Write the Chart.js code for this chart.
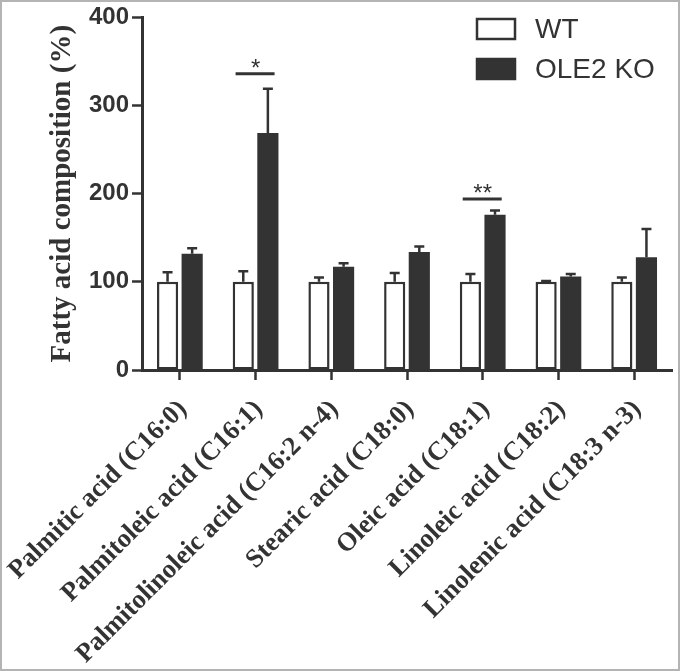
<!DOCTYPE html>
<html>
<head>
<meta charset="utf-8">
<script src="https://cdn.jsdelivr.net/npm/chart.js@4/dist/chart.umd.min.js"></script>
<style>
  html, body { margin: 0; padding: 0; background: #fff; }
  #chart-wrap { position: relative; width: 680px; height: 671px; }
</style>
</head>
<body>
<div id="chart-wrap"><canvas id="chart-container" width="680" height="671"></canvas></div>
<script>
const categories = [
  'Palmitic acid (C16:0)',
  'Palmitoleic acid (C16:1)',
  'Palmitolinoleic acid (C16:2 n-4)',
  'Stearic acid (C18:0)',
  'Oleic acid (C18:1)',
  'Linoleic acid (C18:2)',
  'Linolenic acid (C18:3 n-3)'
];
const wtValues = [100, 100, 100, 100, 100, 100, 100];
const wtErrors = [11, 12, 5, 10, 9, 1, 5];
const koValues = [132, 269, 117, 134, 176, 106, 128];
const koErrors = [6, 50, 4, 6, 5, 3, 32];
const yTicks = [0, 100, 200, 300, 400];
const sigIndex = [1, 4];
const sigMark = ['*', '**'];
const sigLevel = [336, 194];

const ink = '#333333';

document.addEventListener('DOMContentLoaded', function() {
  const chartContainer = document.querySelector('#chart-container');

  const errorBars = {
    id: 'errorBars',
    afterDatasetsDraw(chart) {
      const ctx = chart.ctx;
      const yScale = chart.scales.y;
      ctx.save();
      ctx.strokeStyle = ink;
      ctx.lineWidth = 2.5;
      chart.data.datasets.forEach(function(ds, i) {
        const meta = chart.getDatasetMeta(i);
        meta.data.forEach(function(bar, j) {
          const top = yScale.getPixelForValue(ds.data[j] + ds.errors[j]);
          ctx.beginPath();
          ctx.moveTo(bar.x, bar.y);
          ctx.lineTo(bar.x, top);
          ctx.moveTo(bar.x - 5, top);
          ctx.lineTo(bar.x + 5, top);
          ctx.stroke();
        });
      });
      ctx.restore();
    }
  };

  const significance = {
    id: 'significance',
    afterDatasetsDraw(chart) {
      const ctx = chart.ctx;
      const xScale = chart.scales.x;
      const yScale = chart.scales.y;
      ctx.save();
      ctx.strokeStyle = ink;
      ctx.fillStyle = ink;
      ctx.lineWidth = 3;
      ctx.font = '24px "Liberation Sans", Arial, sans-serif';
      ctx.textAlign = 'center';
      ctx.textBaseline = 'alphabetic';
      sigIndex.forEach(function(idx, k) {
        const cx = xScale.getPixelForValue(idx);
        const y = yScale.getPixelForValue(sigLevel[k]);
        ctx.beginPath();
        ctx.moveTo(cx - 20, y);
        ctx.lineTo(cx + 19, y);
        ctx.stroke();
        ctx.fillText(sigMark[k], cx, y + 2);
      });
      ctx.restore();
    }
  };

  const sideLegend = {
    id: 'sideLegend',
    afterDraw(chart) {
      const ctx = chart.ctx;
      ctx.save();
      ctx.font = '28px "Liberation Sans", Arial, sans-serif';
      ctx.textAlign = 'left';
      ctx.textBaseline = 'middle';
      chart.data.datasets.forEach(function(ds, i) {
        const bx = 477, by = 19 + i * 40;
        ctx.fillStyle = ds.backgroundColor;
        ctx.fillRect(bx, by, 38, 20);
        ctx.strokeStyle = ink;
        ctx.lineWidth = 2.5;
        ctx.strokeRect(bx, by, 38, 20);
        ctx.fillStyle = ink;
        ctx.fillText(ds.label, 535, by + 11);
      });
      // outer frame
      ctx.strokeStyle = '#b4b4b4';
      ctx.lineWidth = 2;
      ctx.strokeRect(1, 1, chart.width - 2, chart.height - 2);
      ctx.restore();
    }
  };

  new Chart(chartContainer, {
    type: 'bar',
    data: {
      labels: categories,
      datasets: [{
        label: 'WT',
        data: wtValues,
        errors: wtErrors,
        backgroundColor: '#ffffff',
        borderColor: ink,
        borderWidth: 2.5,
        borderSkipped: false
      }, {
        label: 'OLE2 KO',
        data: koValues,
        errors: koErrors,
        backgroundColor: ink,
        borderColor: ink,
        borderWidth: 0
      }]
    },
    options: {
      responsive: false,
      animation: false,
      categoryPercentage: 0.65,
      barPercentage: 0.86,
      layout: { padding: { top: 16, right: 8, left: 0, bottom: 0 } },
      plugins: {
        legend: { display: false },
        tooltip: { enabled: false }
      },
      scales: {
        x: {
          grid: {
            offset: false,
            drawOnChartArea: false,
            tickLength: 10,
            tickWidth: 2.5,
            tickColor: ink
          },
          border: { display: true, color: ink, width: 3 },
          ticks: {
            autoSkip: false,
            maxRotation: 45,
            minRotation: 45,
            padding: 14,
            labelOffset: 3,
            color: ink,
            font: { family: '"Liberation Serif", "Times New Roman", serif', size: 26.5, weight: 'bold' }
          },
          afterFit(scale) {
            scale.height = 301;
            scale.paddingLeft = 0;
            scale.paddingRight = 0;
          }
        },
        y: {
          min: 0,
          max: 400,
          afterBuildTicks(scale) {
            scale.ticks = yTicks.map(function(v) { return { value: v }; });
          },
          grid: {
            drawOnChartArea: false,
            tickLength: 10,
            tickWidth: 2.5,
            tickColor: ink
          },
          border: { display: true, color: ink, width: 3 },
          ticks: {
            padding: 3,
            color: ink,
            font: { family: '"Liberation Sans", Arial, sans-serif', size: 24, weight: 'bold' }
          },
          title: {
            display: true,
            text: 'Fatty acid composition (%)',
            color: ink,
            padding: { top: 45, bottom: 0 },
            font: { family: '"Liberation Serif", "Times New Roman", serif', size: 29, weight: 'bold' }
          },
          afterFit(scale) {
            scale.width = 142;
          }
        }
      }
    },
    plugins: [errorBars, significance, sideLegend]
  });
});
</script>
</body>
</html>
